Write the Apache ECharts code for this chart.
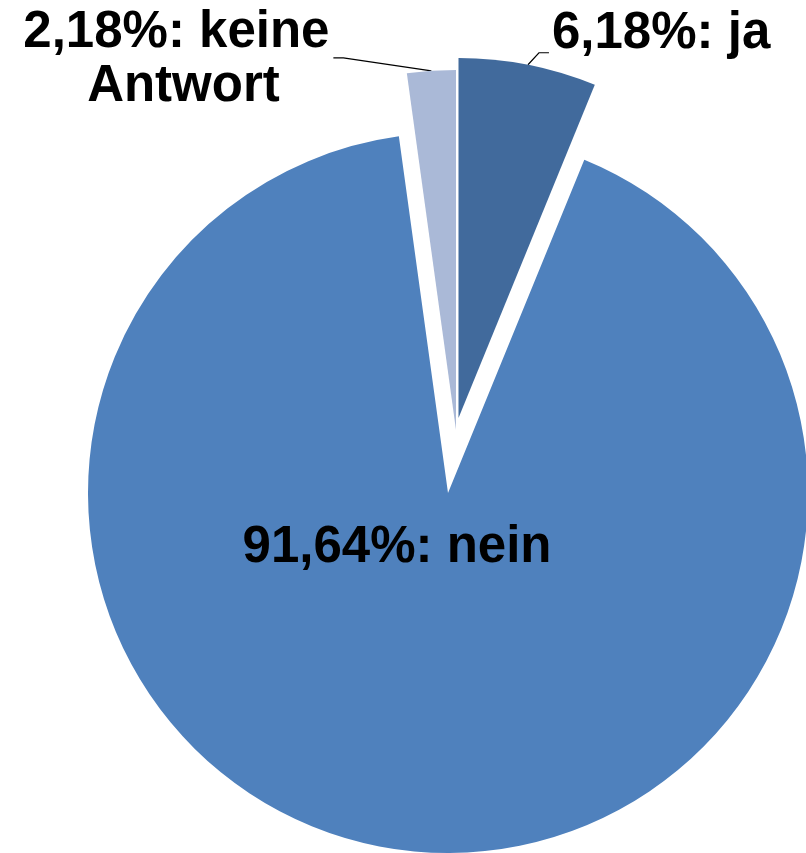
<!DOCTYPE html>
<html>
<head>
<meta charset="utf-8">
<script src="https://cdn.jsdelivr.net/npm/echarts@6/dist/echarts.min.js"></script>
<style>
html,body{margin:0;padding:0;background:#fff;}
#chart{width:806px;height:853px;}
</style>
</head>
<body>
<div id="chart"></div>
<script>
const categories = ['ja', 'nein', 'keine Antwort'];
const values = [6.18, 91.64, 2.18];
const colors = ['#416A9C', '#4F81BD', '#AAB9D7'];

const FONT = '"Liberation Sans", Arial, sans-serif';
const R = 360;
// per-slice explosion centres (Excel style exploded slices)
const centres = [[458.5, 418], [448, 493], [456, 430]];

function fmt(p) {
  return p.value.toFixed(2).replace('.', ',') + '%: ' + p.name;
}

const layouts = [
  function (p) { // ja
    if (p.dataIndex !== 0 || !p.labelLinePoints) return {};
    const a = p.labelLinePoints[0];
    return {
      x: a[0] + 24, y: a[1] - 31, align: 'left', verticalAlign: 'middle',
      labelLinePoints: [[a[0], a[1]], [a[0] + 11, a[1] - 12], [a[0] + 21, a[1] - 12]]
    };
  },
  function (p) { // nein
    if (p.dataIndex !== 1) return {};
    return { dx: -51, dy: 55 };
  },
  function (p) { // keine Antwort
    if (p.dataIndex !== 2 || !p.labelLinePoints) return {};
    const a = p.labelLinePoints[0];
    return {
      x: a[0] - 255, y: a[1] - 11, align: 'center', verticalAlign: 'middle',
      labelLinePoints: [[a[0], a[1]], [a[0] - 88, a[1] - 13], [a[0] - 98, a[1] - 13]]
    };
  }
];

const series = categories.map(function (_, k) {
  return {
    type: 'pie',
    center: centres[k],
    radius: [0, R],
    startAngle: 90,
    clockwise: true,
    silent: true,
    avoidLabelOverlap: false,
    emphasis: { disabled: true },
    label: {
      show: true,
      position: k === 1 ? 'center' : 'outside',
      formatter: fmt,
      color: '#000',
      fontFamily: FONT,
      fontWeight: 'bold',
      fontSize: 51,
      lineHeight: 54,
      width: k === 2 ? 320 : undefined,
      overflow: k === 2 ? 'break' : 'none',
      align: 'center'
    },
    labelLine: {
      show: k !== 1,
      length: 15,
      length2: 10,
      lineStyle: { color: '#000', width: 1.2 }
    },
    labelLayout: layouts[k],
    data: categories.map(function (name, i) {
      return {
        name: name,
        value: values[i],
        itemStyle: { color: i === k ? colors[i] : 'rgba(0,0,0,0)', borderWidth: 0 },
        label: { show: i === k },
        labelLine: { show: i === k && k !== 1 }
      };
    })
  };
});

const chart = echarts.init(document.getElementById('chart'), null, { renderer: 'canvas' });
chart.setOption({
  animation: false,
  backgroundColor: '#ffffff',
  series: series
});
</script>
</body>
</html>
